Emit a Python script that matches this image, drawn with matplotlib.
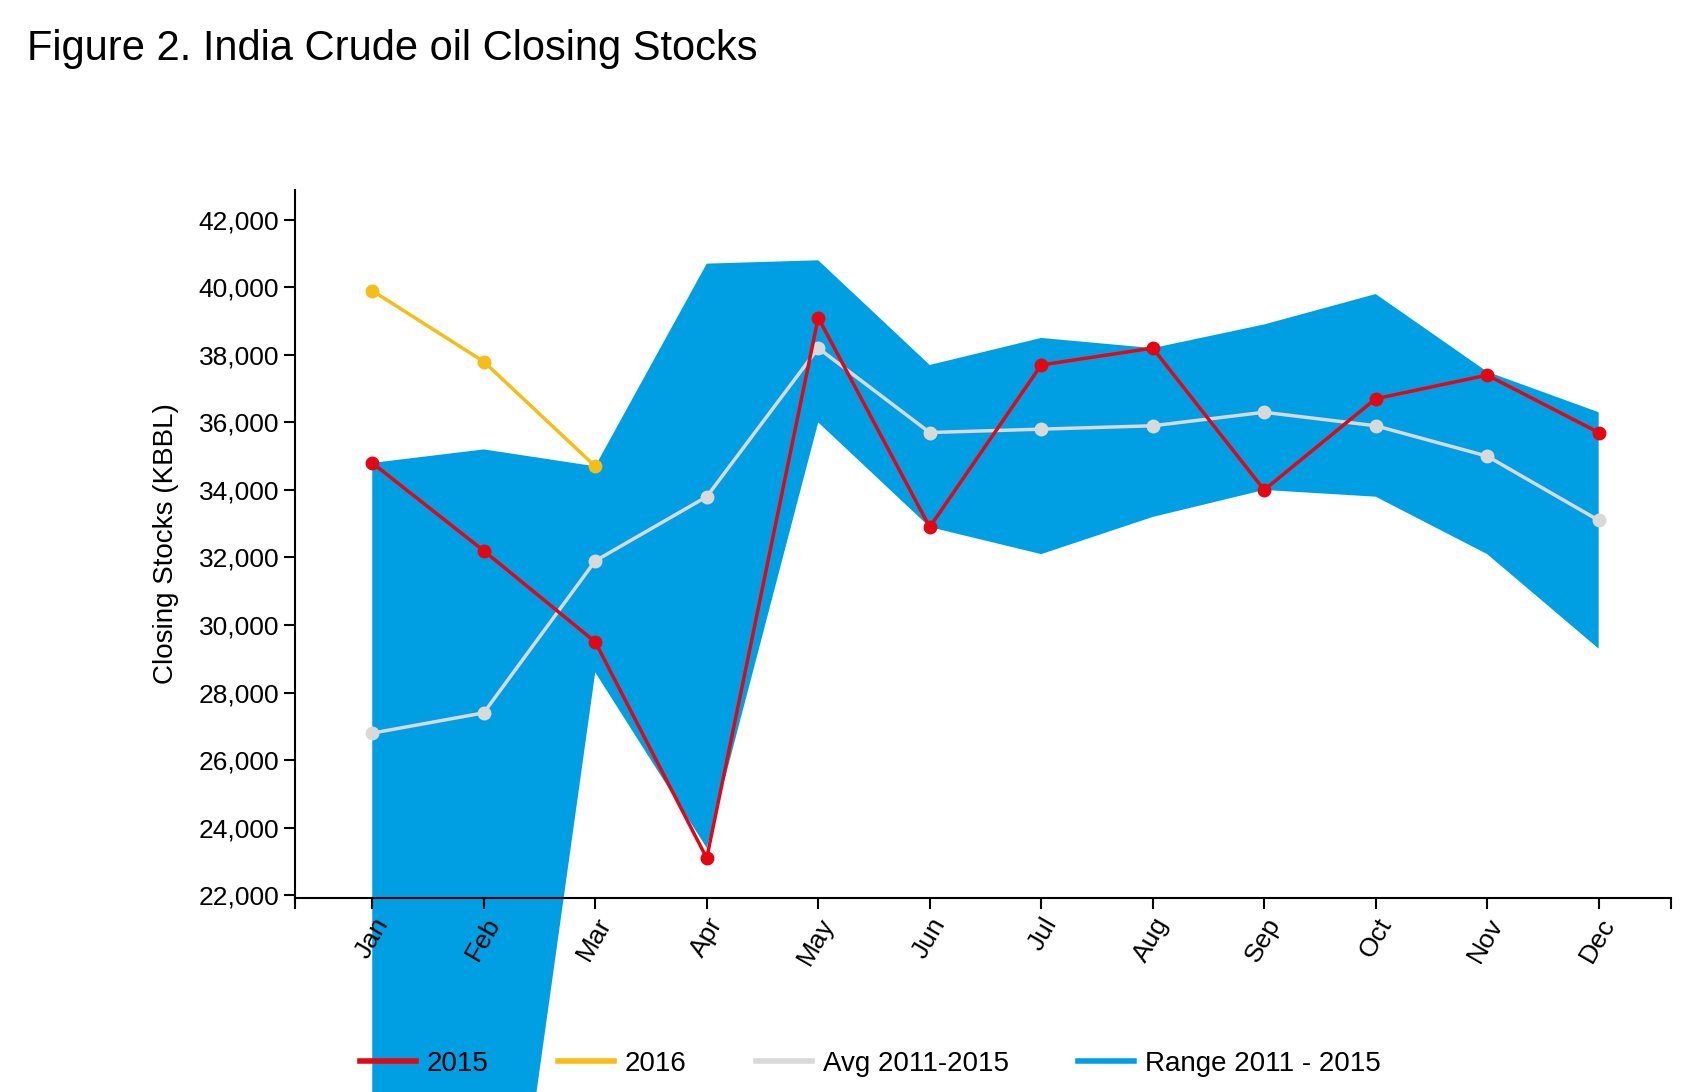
import numpy as np
import matplotlib.pyplot as plt
from matplotlib.lines import Line2D

plt.rcParams['font.family'] = ['Liberation Sans', 'DejaVu Sans']

months = ['Jan', 'Feb', 'Mar', 'Apr', 'May', 'Jun', 'Jul', 'Aug', 'Sep', 'Oct', 'Nov', 'Dec']
range_hi = [34800, 35200, 34700, 40700, 40800, 37700, 38500, 38200, 38900, 39800, 37500, 36300]
range_lo = [5000, 5000, 28600, 23400, 36000, 32900, 32100, 33200, 34000, 33800, 32100, 29300]
s2015 = [34800, 32200, 29500, 23100, 39100, 32900, 37700, 38200, 34000, 36700, 37400, 35700]
s2016 = [39900, 37800, 34700]
avg = [26800, 27400, 31900, 33800, 38200, 35700, 35800, 35900, 36300, 35900, 35000, 33100]

blue = '#009fe3'
red = '#e30613'
yellow = '#f6bd16'
grey = '#d9d9d9'

fig = plt.figure(figsize=(17.07, 10.92), dpi=100)
ax = fig.add_axes([0.173, 0.178, 0.806, 0.648])
x = np.arange(len(months))

ax.fill_between(x, range_lo, range_hi, color=blue, lw=0, clip_on=False, zorder=1)
ax.plot(x, avg, color=grey, lw=2.5, marker='o', ms=9, zorder=3)
ax.plot(x, s2015, color=red, lw=2.5, marker='o', ms=9, zorder=4)
ax.plot(x[:3], s2016, color=yellow, lw=2.5, marker='o', ms=9, zorder=4)

ax.set_xlim(-0.69, 11.65)
ax.set_ylim(21930, 42880)
ax.set_yticks(np.arange(22000, 42001, 2000))
ax.set_yticklabels([f'{v:,}' for v in range(22000, 42001, 2000)], fontsize=19)
ax.set_xticks(x)
ax.set_xticklabels(months, rotation=60, fontsize=19, ha='right', rotation_mode='anchor')
ax.set_xticks([-0.69, 11.65], minor=True)
ax.tick_params(which='both', direction='out', length=8, width=1.5)
ax.spines['top'].set_visible(False)
ax.spines['right'].set_visible(False)
ax.spines['left'].set_linewidth(1.5)
ax.spines['bottom'].set_linewidth(1.5)
ax.set_ylabel('Closing Stocks (KBBL)', fontsize=20, labelpad=14)

fig.text(0.016, 0.955, 'Figure 2. India Crude oil Closing Stocks', fontsize=30, va='center')

handles = [Line2D([], [], color=red, lw=4),
           Line2D([], [], color=yellow, lw=4),
           Line2D([], [], color=grey, lw=4),
           Line2D([], [], color=blue, lw=4)]
fig.legend(handles, ['2015', '2016', 'Avg 2011-2015', 'Range 2011 - 2015'],
           loc='center', bbox_to_anchor=(0.51, 0.026), ncol=4, frameon=False,
           fontsize=20, handlelength=2, columnspacing=2.5, handletextpad=0.4)

fig.savefig('out.png')
